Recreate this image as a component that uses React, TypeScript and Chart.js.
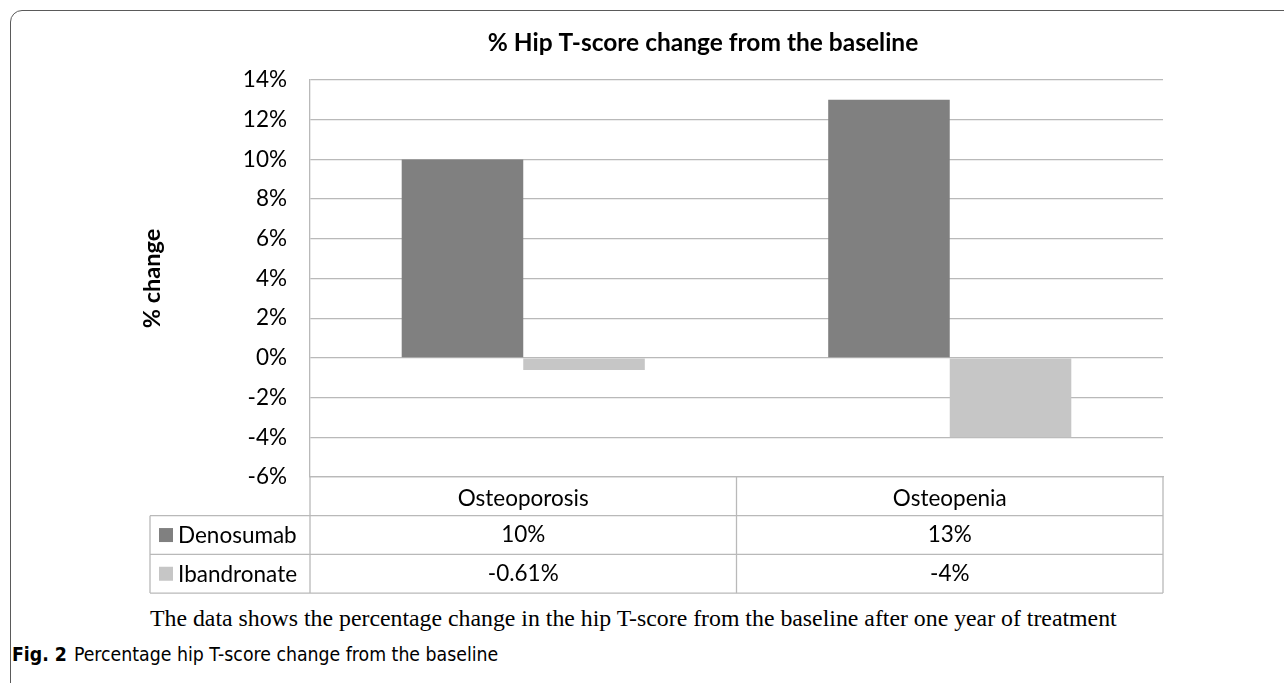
import { useEffect, useRef } from "react";
import { Chart, registerables } from "chart.js";

Chart.register(...registerables);

const chartTitle = "% Hip T-score change from the baseline";
const yAxisTitle = "% change";
const categories = ["Osteoporosis", "Osteopenia"];
const seriesNames = ["Denosumab", "Ibandronate"];
const denosumab = [10, 13];
const ibandronate = [-0.61, -4];
const denosumabLabels = ["10%", "13%"];
const ibandronateLabels = ["-0.61%", "-4%"];
const yMin = -6;
const yMax = 14;
const yStep = 2;
const captionText =
  "The data shows the percentage change in the hip T-score from the baseline after one year of treatment";
const figLabel = "Fig. 2";
const figText = "Percentage hip T-score change from the baseline";

const COLOR_DARK = "#808080";
const COLOR_LIGHT = "#c6c6c6";
const GRID = "#b9b9b9";
const FONT = "Lato, Carlito, 'Noto Sans', sans-serif";
const TICK_SIZE = 22.5;

const tablePlugin = {
  id: "excelTable",
  afterDraw(chart: any) {
    const { ctx, chartArea, scales } = chart;
    const xs = scales.x;
    const left = chartArea.left;
    const right = chartArea.right;
    const bottom = chartArea.bottom;
    const rowH = 38.7;
    const tableLeft = left - 160;
    ctx.save();
    ctx.strokeStyle = GRID;
    ctx.lineWidth = 1.3;
    const hline = (x0: number, x1: number, yy: number) => {
      ctx.beginPath();
      ctx.moveTo(x0, yy);
      ctx.lineTo(x1, yy);
      ctx.stroke();
    };
    const vline = (xx: number, y0: number, y1: number) => {
      ctx.beginPath();
      ctx.moveTo(xx, y0);
      ctx.lineTo(xx, y1);
      ctx.stroke();
    };
    for (let r = 1; r <= 3; r++) hline(tableLeft, right, bottom + r * rowH);
    vline(tableLeft, bottom + rowH, bottom + 3 * rowH);
    vline(left, bottom, bottom + 3 * rowH);
    const n = categories.length;
    const cw = (right - left) / n;
    for (let i = 1; i <= n; i++) vline(left + i * cw, bottom, bottom + 3 * rowH);

    ctx.fillStyle = "#000";
    ctx.font = `${TICK_SIZE}px ${FONT}`;
    ctx.textBaseline = "middle";
    ctx.textAlign = "center";
    const rows = [
      { name: seriesNames[0], labels: denosumabLabels, color: COLOR_DARK },
      { name: seriesNames[1], labels: ibandronateLabels, color: COLOR_LIGHT },
    ];
    rows.forEach((row, r) => {
      const cy = bottom + rowH * (r + 1.5);
      row.labels.forEach((lab, i) => {
        ctx.fillText(lab, xs.getPixelForValue(i), cy);
      });
      ctx.fillStyle = row.color;
      ctx.fillRect(tableLeft + 9, cy - 7, 14, 14);
      ctx.fillStyle = "#000";
      ctx.textAlign = "left";
      ctx.fillText(row.name, tableLeft + 28, cy + 1);
      ctx.textAlign = "center";
    });

    ctx.font = `bold 24.5px ${FONT}`;
    ctx.textAlign = "center";
    ctx.fillText(chartTitle, 703, 43);
    ctx.restore();
  },
};

export default function App() {
  const canvasRef = useRef<HTMLCanvasElement | null>(null);

  useEffect(() => {
    if (!canvasRef.current) return;
    const chart = new Chart(canvasRef.current, {
      type: "bar",
      data: {
        labels: categories,
        datasets: [
          {
            label: seriesNames[0],
            data: denosumab,
            backgroundColor: COLOR_DARK,
            borderWidth: 0,
            categoryPercentage: 0.57,
            barPercentage: 1,
          },
          {
            label: seriesNames[1],
            data: ibandronate,
            backgroundColor: COLOR_LIGHT,
            borderWidth: 0,
            categoryPercentage: 0.57,
            barPercentage: 1,
          },
        ],
      },
      options: {
        animation: false,
        responsive: true,
        maintainAspectRatio: false,
        layout: { padding: { left: 0, right: 121, top: 80, bottom: 0 } },
        plugins: {
          legend: { display: false },
          title: { display: false },
          tooltip: { enabled: false },
        },
        scales: {
          x: {
            grid: { display: false },
            border: { display: true, color: GRID, width: 1.3 },
            ticks: {
              color: "#000",
              font: { family: FONT, size: TICK_SIZE, lineHeight: 1.2 },
              padding: 0,
            },
            afterFit: (s: any) => {
              s.height = 123;
            },
          },
          y: {
            min: yMin,
            max: yMax,
            grid: { color: GRID, lineWidth: 1.3, drawTicks: false },
            border: { display: true, color: GRID, width: 1.3 },
            ticks: {
              stepSize: yStep,
              color: "#000",
              padding: 23,
              font: { family: FONT, size: TICK_SIZE },
              callback: (v: any) => `${v}%`,
            },
            title: {
              display: true,
              text: yAxisTitle,
              color: "#000",
              font: { family: FONT, size: 23.5, weight: "bold", lineHeight: 1.2 },
              padding: { top: 138, bottom: 0 },
            },
            afterFit: (s: any) => {
              s.width = 310;
            },
          },
        },
      },
      plugins: [tablePlugin],
    });
    return () => chart.destroy();
  }, []);

  return (
    <div
      style={{
        position: "absolute",
        left: 0,
        top: 0,
        width: 1284,
        height: 683,
        overflow: "hidden",
        background: "#fff",
      }}
    >
      <div
        style={{
          position: "absolute",
          left: 10,
          top: 10,
          width: 1320,
          height: 720,
          border: "1.5px solid #5a5a5a",
          borderRadius: 12,
        }}
      />
      <div style={{ position: "absolute", left: 0, top: 0, width: 1284, height: 600 }}>
        <canvas ref={canvasRef} />
      </div>
      <div
        style={{
          position: "absolute",
          left: 150,
          top: 603,
          fontFamily: "'Liberation Serif', 'Times New Roman', serif",
          fontSize: 23.8,
          lineHeight: "30px",
          color: "#000",
          whiteSpace: "nowrap",
        }}
      >
        {captionText}
      </div>
      <div
        style={{
          position: "absolute",
          left: 12,
          top: 641,
          fontFamily: "'Liberation Sans Narrow', 'DejaVu Sans Condensed', sans-serif",
          fontSize: 19.3,
          lineHeight: "28px",
          color: "#000",
          whiteSpace: "nowrap",
        }}
      >
        <b>{figLabel}</b>
        <span style={{ marginLeft: 7 }}>{figText}</span>
      </div>
    </div>
  );
}
